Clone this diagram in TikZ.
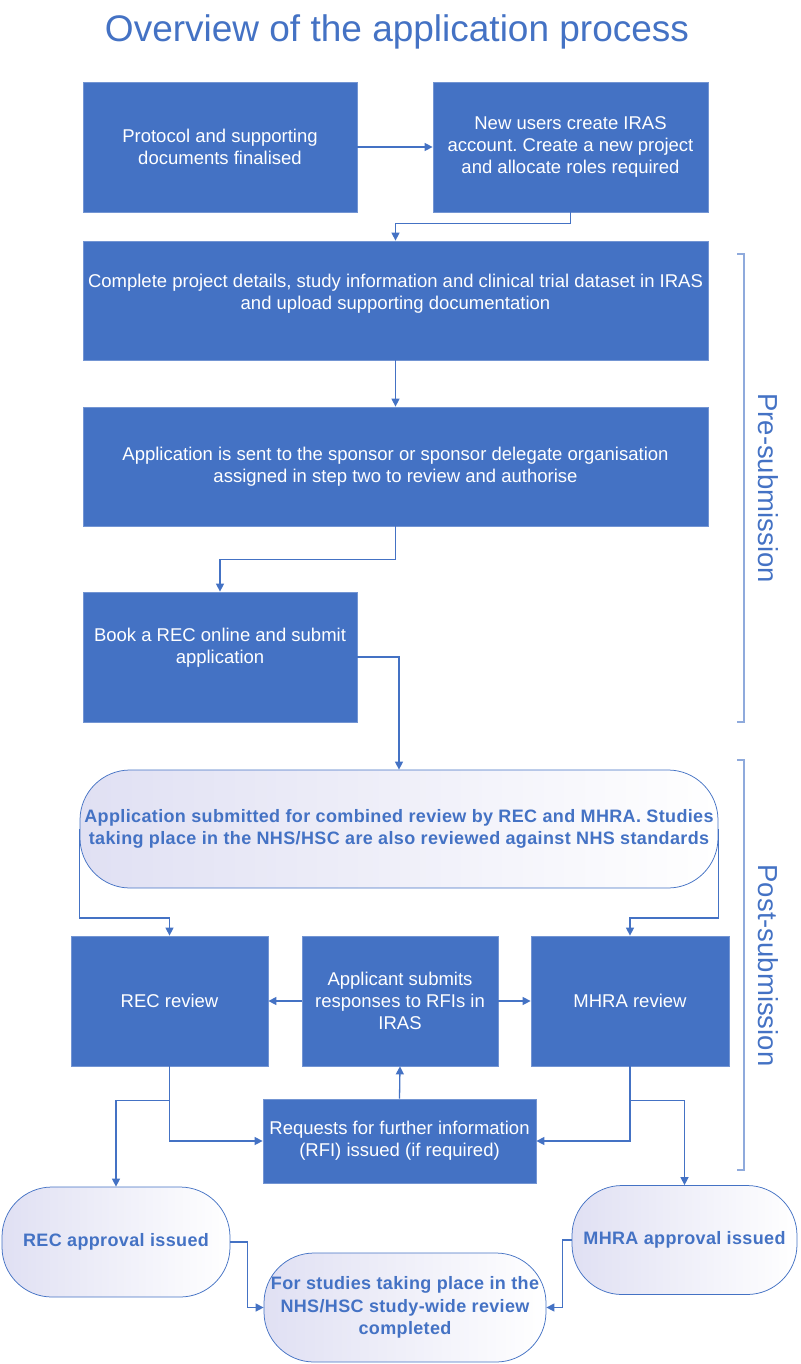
\documentclass[tikz,border=0pt]{standalone}
\usepackage{fontspec}
\setmainfont{Liberation Sans}
\usetikzlibrary{arrows.meta,calc}
\definecolor{ob}{HTML}{4472C4}
\definecolor{lb}{HTML}{8FAADC}
\definecolor{lav}{HTML}{E0E0F3}
\frenchspacing
\begin{document}
\begin{tikzpicture}[x=1pt,y=-1pt,
  box/.style={fill=ob, draw=ob!75!white, line width=0.75pt, text=white, align=center,
    font=\fontsize{18.5}{22}\selectfont, inner sep=0pt},
  pill/.style={draw=ob, line width=0.75pt, rounded corners=50pt, left color=lav, right color=white,
    text=ob, align=center, font=\bfseries\fontsize{18}{22.5}\selectfont\addfontfeature{LetterSpace=2}, inner sep=0pt},
  arr/.style={draw=ob, line width=1.3pt, -{Triangle[width=8pt,length=8pt]}},
  brk/.style={draw=lb, line width=1.5pt},
  side/.style={rotate=-90, text=ob, font=\fontsize{27.5}{32}\selectfont}
]
\useasboundingbox (0,0) rectangle (800,1364);

\node[text=ob, font=\fontsize{37}{44}\selectfont] (title) at (397,32) {Overview of the application process};

\node[box, minimum width=274pt, minimum height=130pt] (n1) at (220,147)
  {Protocol and supporting\\documents finalised};
\node[box, minimum width=275pt, minimum height=130pt] (n2) at (570.5,147)
  {New users create IRAS\\account. Create a new project\\and allocate roles required};
\node[box, minimum width=625pt, minimum height=119pt] (n3) at (395.5,300.5)
  {Complete project details, study information and clinical trial dataset in IRAS\\and upload supporting documentation\\[-5pt]\mbox{}};
\node[box, minimum width=625pt, minimum height=119pt] (n4) at (395.5,466.5)
  {Application is sent to the sponsor or sponsor delegate organisation\\assigned in step two to review and authorise};
\node[box, minimum width=274pt, minimum height=130pt] (n5) at (220,657)
  {Book a REC online and submit\\application\\\mbox{}};
\node[pill, minimum width=638pt, minimum height=118pt] (n6) at (399,829)
  {Application submitted for combined review by REC and MHRA. Studies\\taking place in the NHS/HSC are also reviewed against NHS standards};

\node[box, minimum width=197pt, minimum height=130pt] (rec) at (169.5,1001) {REC review};
\node[box, minimum width=196pt, minimum height=130pt] (app) at (400,1001)
  {Applicant submits\\responses to RFIs in\\IRAS};
\node[box, minimum width=198pt, minimum height=130pt] (mhra) at (630,1001) {MHRA review};
\node[box, minimum width=273pt, minimum height=84pt] (rfi) at (399.5,1141)
  {Requests for further information\\(RFI) issued (if required)};

\node[pill, minimum width=228pt, minimum height=110pt] (recapp) at (116,1242) {REC approval issued};
\node[pill, minimum width=225pt, minimum height=109pt] (mhraapp) at (684.5,1240) {MHRA approval issued};
\node[pill, minimum width=282pt, minimum height=109pt] (final) at (405,1307.5)
  {For studies taking place in the\\NHS/HSC study-wide review\\completed};

% connectors
\draw[arr] (n1.east) -- (n2.west);
\draw[arr] (n2.south) -- ++(0,11) -| (n3.north);
\draw[arr] (n3.south) -- (n4.north);
\draw[arr] (n4.south) -- ++(0,33) -| (n5.north);
\draw[arr] (n5.east) -| (n6.north);
\draw[arr] (n6.west) -- ++(0,89) -| (rec.north);
\draw[arr] (n6.east) -- ++(0,89) -| (mhra.north);
\draw[arr] (app.west) -- (rec.east);
\draw[arr] (app.east) -- (mhra.west);
\draw[arr] (rfi.north) -- (app.south);
\draw[arr] (rec.south) |- (rfi.west);
\draw[arr] (mhra.south) |- (rfi.east);
\draw[arr] ($(rec.south)+(0,34)$) -| (recapp.north);
\draw[arr] ($(mhra.south)+(0,34)$) -| (mhraapp.north);
\draw[arr] (recapp.east) -- ++(17,0) |- (final.west);
\draw[arr] (mhraapp.west) -- ++(-9,0) |- (final.east);

% brackets
\draw[brk] (737,254) -- (744,254) -- (744,722) -- (737,722);
\draw[brk] (737,760) -- (744,760) -- (744,1170) -- (737,1170);
\node[side] (pre) at (768,488) {Pre-submission};
\node[side] (post) at (768,965.5) {Post-submission};
\end{tikzpicture}
\end{document}
